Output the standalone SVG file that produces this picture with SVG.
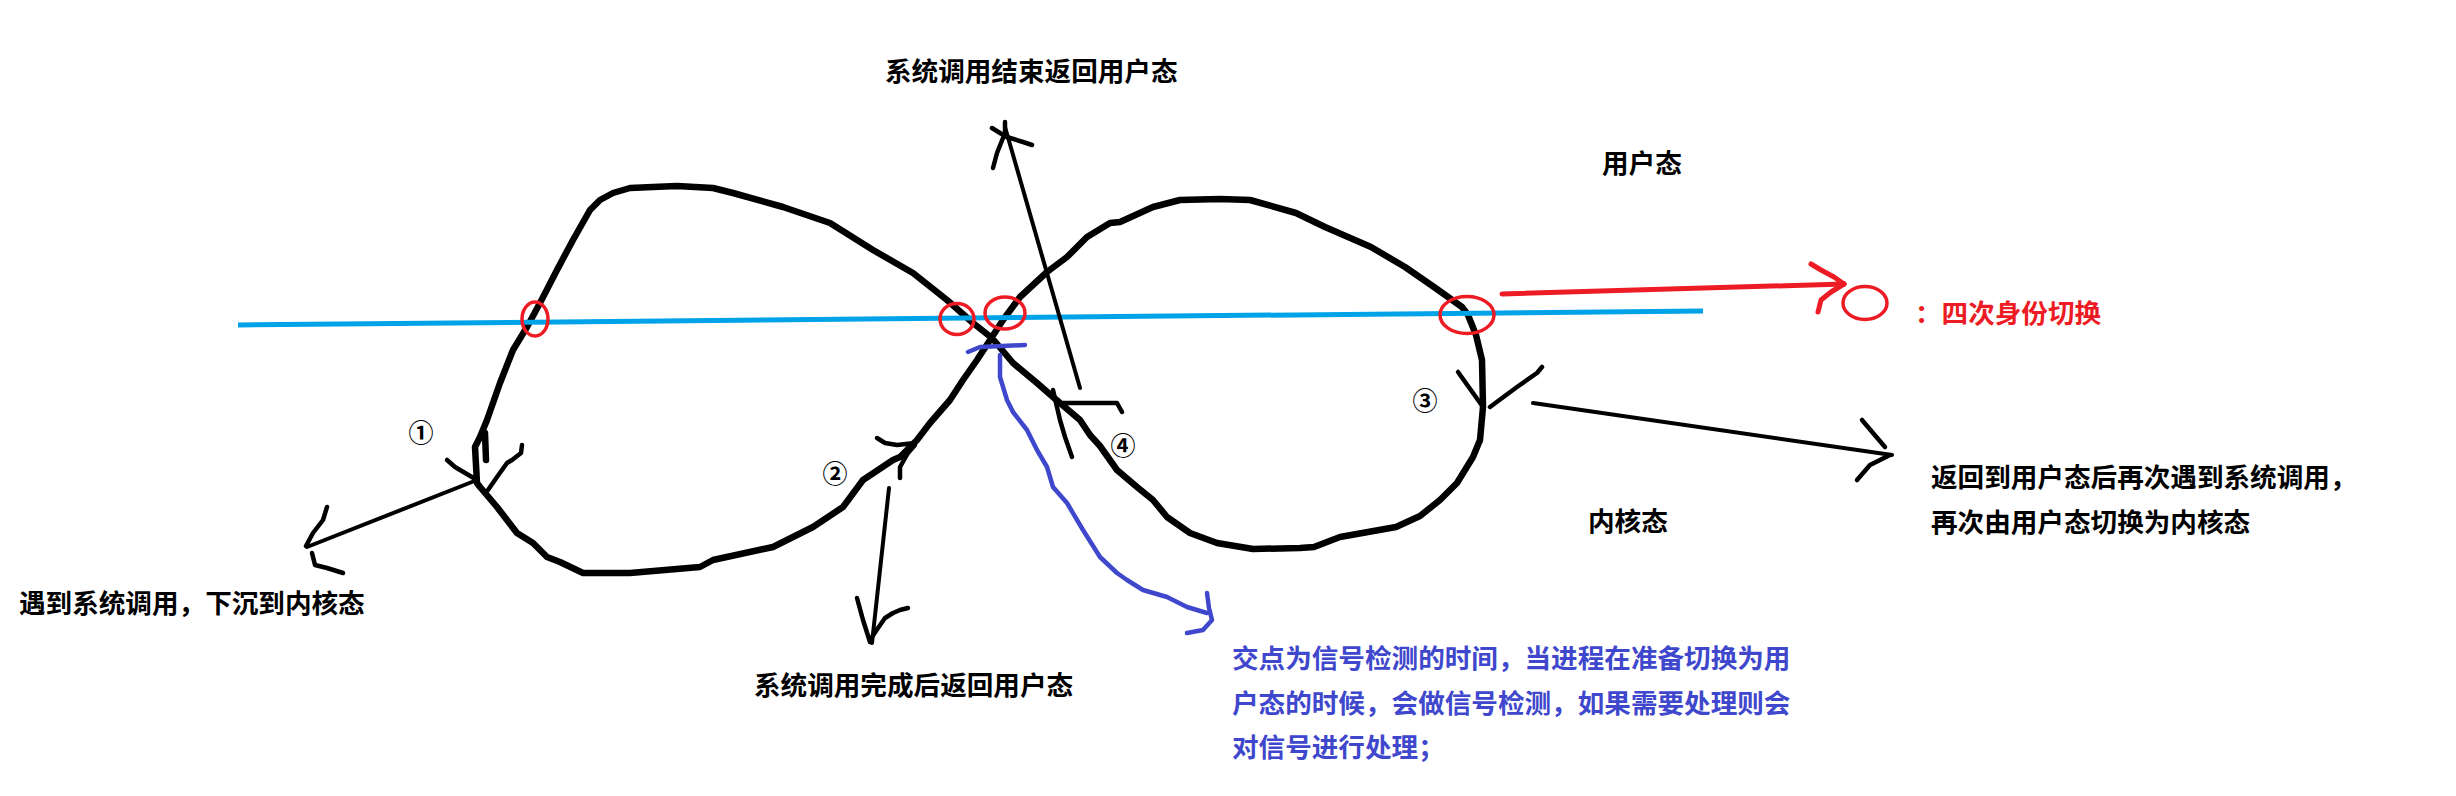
<svg xmlns="http://www.w3.org/2000/svg" width="2456" height="796" viewBox="0 0 2456 796">
<style>
.bg{fill:#ffffff}
.loop{fill:none;stroke:#000;stroke-width:6.5;stroke-linejoin:round;stroke-linecap:round}
.ln{fill:none;stroke:#000;stroke-width:4;stroke-linejoin:round;stroke-linecap:round}
.hd{fill:none;stroke:#000;stroke-width:4.5;stroke-linejoin:round;stroke-linecap:round}
.axis{fill:none;stroke:#00a2e8;stroke-width:5;stroke-linecap:butt}
.ring{fill:none;stroke:#ed1c24;stroke-width:3.5}
.red{fill:none;stroke:#ed1c24;stroke-width:5;stroke-linejoin:round;stroke-linecap:round}
.ind{fill:none;stroke:#3f48cc;stroke-width:4.5;stroke-linejoin:round;stroke-linecap:round}
.t{font-family:"Noto Sans CJK SC","Noto Sans CJK TC",sans-serif;font-size:26.6px;font-weight:700;fill:#000}
.tr{fill:#ed1c24}
.tb{fill:#3f48cc}
.num{font-family:"Noto Sans CJK SC",sans-serif;font-size:25px;font-weight:700;fill:#000;text-anchor:middle}
</style>
<rect class="bg" x="0" y="0" width="2456" height="796"/>

<g id="figure8">
<path class="loop" d="M477,483 L475,447 L480,437 L487,420 L500,383 L513,350 L527,327 L540,303 L557,270 L573,240 L590,210 L600,200 L613,193 L630,188 L653,187 L677,186 L713,188 L733,193 L783,207 L830,223 L873,250 L913,273 L947,300 L973,323 L992,338 L1013,363 L1037,383 L1053,397 L1080,420 L1090,435 L1100,446 L1117,470 L1137,487 L1153,500 L1167,517 L1190,533 L1217,543 L1253,549 L1300,548 L1314,547 L1340,537 L1396,527 L1420,516 L1440,500 L1457,483 L1473,457 L1480,440 L1483,407 L1482,360 L1476,335 L1468,315 L1462,307 L1434,287 L1405,267 L1371,247 L1325,227 L1296,213 L1250,200 L1220,199 L1180,200 L1153,207 L1120,222 L1110,223 L1087,237 L1067,257 L1047,272 L1020,297 L1003,320 L992,337 L977,360 L963,380 L950,400 L930,423 L917,440 L900,457 L893,460 L863,480 L843,507 L813,527 L773,547 L713,560 L700,567 L630,573 L583,573 L560,562 L547,557 L533,543 L517,533 L497,507 L480,487 Z"/>
<path class="loop" d="M485,433 L486,460"/>
</g>

<g id="axis">
<line class="axis" x1="238" y1="325" x2="1703" y2="311"/>
</g>

<g id="switch-points">
<ellipse class="ring" cx="535" cy="319" rx="13" ry="17"/>
<ellipse class="ring" cx="957" cy="319" rx="17" ry="15.5"/>
<ellipse class="ring" cx="1005" cy="313" rx="20" ry="16"/>
<ellipse class="ring" cx="1467" cy="315" rx="27" ry="18.5"/>
</g>

<g id="connectors">
<g id="arrow-1">
<path class="hd" d="M447,460 L455,467 L477,480"/>
<path class="hd" d="M522,445 L521,453 L512,460 L507,463 L497,477 L488,490"/>
<path class="ln" d="M477,480 L307,547"/>
<path class="hd" d="M327,507 L323,520 L313,533 L306,546"/>
<path class="hd" d="M312,553 L315,565 L327,568 L343,573"/>
</g>
<g id="arrow-2">
<path class="hd" d="M877,438 L885,443 L897,445 L915,443"/>
<path class="hd" d="M900,478 L900,467 L908,453 L915,445"/>
<path class="ln" d="M889,488 L872,643"/>
<path class="hd" d="M857,598 L863,620 L870,642"/>
<path class="hd" d="M908,608 L900,610 L893,613 L885,618 L878,628 L872,637"/>
</g>
<g id="arrow-4">
<path class="ln" d="M1080,388 L1005,127"/>
<path class="hd" d="M993,168 L997,153 L1005,133 L1005,122"/>
<path class="hd" d="M992,128 L1000,133 L1007,137 L1023,142 L1032,145"/>
<path class="hd" d="M1053,390 L1060,420 L1065,437 L1072,457"/>
<path class="hd" d="M1063,403 L1117,403 L1122,412"/>
</g>
<g id="arrow-3">
<path class="hd" d="M1458,372 L1483,407"/>
<path class="hd" d="M1542,367 L1537,373 L1517,387 L1490,407"/>
<path class="ln" d="M1533,403 L1892,455"/>
<path class="hd" d="M1862,420 L1873,433 L1885,447"/>
<path class="hd" d="M1857,480 L1870,465 L1890,455"/>
</g>
<g id="arrow-legend">
<path class="red" d="M1502,294 L1844,284"/>
<path class="red" d="M1811,264 L1821,270 L1834,277 L1844,284"/>
<path class="red" d="M1818,312 L1821,300 L1831,292 L1844,284"/>
</g>
<g id="arrow-signal">
<path class="ind" d="M968,352 L980,347 L1025,345"/>
<path class="ind" d="M1000,355 L1000,377 L1007,400 L1013,412 L1027,430 L1037,450 L1047,467 L1053,487 L1067,503 L1083,530 L1100,557 L1117,573 L1127,580 L1143,590 L1167,597 L1187,607 L1207,613"/>
<path class="ind" d="M1207,593 L1209,608 L1212,620 L1203,630 L1187,633"/>
</g>
</g>

<g id="legend-ring">
<ellipse class="ring" cx="1865" cy="303" rx="22" ry="16.5"/>
</g>

<g id="step-1"><text class="num" x="421" y="442">①</text></g>
<g id="step-2"><text class="num" x="835" y="483">②</text></g>
<g id="step-3"><text class="num" x="1425" y="410">③</text></g>
<g id="step-4"><text class="num" x="1123" y="455">④</text></g>

<g id="label-return-user"><text class="t" x="885" y="81">系统调用结束返回用户态</text></g>
<g id="label-user"><text class="t" x="1602" y="173">用户态</text></g>
<g id="label-kernel"><text class="t" x="1588" y="531">内核态</text></g>
<g id="label-legend"><text class="t tr" x="1915" y="323">：四次身份切换</text></g>
<g id="label-again"><text class="t" x="1931" y="487">返回到用户态后再次遇到系统调用，</text><text class="t" x="1931" y="532">再次由用户态切换为内核态</text></g>
<g id="label-syscall"><text class="t" x="19" y="613">遇到系统调用，下沉到内核态</text></g>
<g id="label-done"><text class="t" x="754" y="695">系统调用完成后返回用户态</text></g>
<g id="label-signal"><text class="t tb" x="1232" y="668">交点为信号检测的时间，当进程在准备切换为用</text><text class="t tb" x="1232" y="713">户态的时候，会做信号检测，如果需要处理则会</text><text class="t tb" x="1232" y="757">对信号进行处理；</text></g>
</svg>
